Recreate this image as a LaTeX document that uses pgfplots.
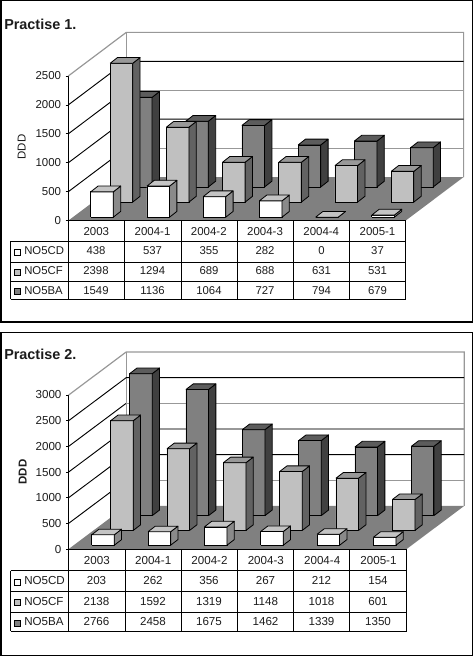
\documentclass[border=0pt]{standalone}
\usepackage{pgfplots}
\usepackage{pgfplotstable}
\usepackage{fontspec}
\setmainfont{Liberation Sans}
\pgfplotsset{compat=1.18}
\definecolor{txt}{HTML}{1C1C1C}
\definecolor{wtop}{HTML}{C4C4C4}
\definecolor{wside}{HTML}{8A8A8A}
\definecolor{gfront}{HTML}{C0C0C0}
\definecolor{gtop}{HTML}{989898}
\definecolor{gside}{HTML}{626262}
\definecolor{dfront}{HTML}{808080}
\definecolor{dtop}{HTML}{5C5C5C}
\definecolor{dside}{HTML}{404040}
\definecolor{floorc}{HTML}{808080}
\definecolor{wallc}{HTML}{989898}

\pgfplotstableread{
cat CD CF BA
2003 438 2398 1549
2004-1 537 1294 1136
2004-2 355 689 1064
2004-3 282 688 727
2004-4 0 631 794
2005-1 37 531 679
}\tblA
\pgfplotstableread{
cat CD CF BA
2003 203 2138 2766
2004-1 262 1592 2458
2004-2 356 1319 1675
2004-3 267 1148 1462
2004-4 212 1018 1339
2005-1 154 601 1350
}\tblB

% one 3-D looking bar: category index, series index, value, three colours
\newcommand{\onebar}[6]{%
  \pgfmathsetmacro{\xa}{\xfirst+#1+#2*\xser}%
  \pgfmathsetmacro{\xb}{\xa+\bwid}%
  \pgfmathsetmacro{\xc}{\xa+\ddx}%
  \pgfmathsetmacro{\xd}{\xb+\ddx}%
  \pgfmathsetmacro{\ya}{\yfirst+#2*\yser}%
  \pgfmathsetmacro{\yb}{\ya+#3}%
  \pgfmathsetmacro{\yc}{\ya+\ddy}%
  \pgfmathsetmacro{\yd}{\yb+\ddy}%
  \addplot[barface,fill=#4] coordinates {(\xa,\ya) (\xb,\ya) (\xb,\yb) (\xa,\yb) (\xa,\ya)};
  \addplot[barface,fill=#6] coordinates {(\xb,\ya) (\xd,\yc) (\xd,\yd) (\xb,\yb) (\xb,\ya)};
  \addplot[barface,fill=#5] coordinates {(\xa,\yb) (\xb,\yb) (\xd,\yd) (\xc,\yd) (\xa,\yb)};
}
\newcommand{\barseries}[6]{% table, column, series index, colours
  \foreach \i in {0,...,5}{%
    \pgfplotstablegetelem{\i}{#2}\of{#1}%
    \let\vv\pgfplotsretval
    \onebar{\i}{#3}{\vv}{#4}{#5}{#6}%
  }%
}
% table text row
\newcommand{\tabrow}[4]{% table, column, y px, name
  \foreach \i/\cx in {0/\cxa,1/\cxb,2/\cxc,3/\cxd,4/\cxe,5/\cxf}{%
    \pgfplotstablegetelem{\i}{#2}\of{#1}%
    \node[tabtxt] at (\cx,#3) {\pgfplotsretval};
  }%
  \node[tabtxt,anchor=west] at (24,#3) {#4};
}
\pgfplotsset{
  barface/.style={draw=black,line width=0.6pt,line join=round,mark=none,forget plot},
  wallline/.style={line width=0.7pt,mark=none,forget plot},
  chart/.style={
    scale only axis,clip=false,
    xmin=0,xmax=6,ymin=0,
    axis x line*=bottom,axis y line*=left,
    axis line style={-,line width=0.6pt},
    xtick={0.5,1.5,2.5,3.5,4.5,5.5},
    xticklabels={2003,2004-1,2004-2,2004-3,2004-4,2005-1},
    x tick style={draw=none},
    y tick style={black,line width=0.6pt},
    major tick length=1.9pt,
    tick align=outside,
    yticklabel style={/pgf/number format/1000 sep={},/pgf/number format/assume math mode=true,text=txt},
    xticklabel style={text=txt,yshift=0pt},
  },
}
\tikzset{tabtxt/.style={text=txt,inner sep=0pt,anchor=center,font=\tabfont}}

\begin{document}
\begin{tikzpicture}
\useasboundingbox (0,0) rectangle (354.75pt,-492pt);

%% ---------- chart 1
\begin{axis}[chart,
  at={(51.2pt,-165.5pt)},anchor=south west,
  width=253pt,height=108.5pt,
  ymax=2500,ytick={0,500,...,2500},
  tick label style={font=\fontsize{8.6}{10}\selectfont},
  ylabel={DDD},
  ylabel style={at={(axis description cs:-0.138,0.51)},anchor=center,text=txt,font=\fontsize{8.6}{10}\selectfont},
]
\addplot[draw=none,fill=floorc,mark=none,forget plot] coordinates {(0,0) (6,0) (7.032,754) (1.032,754) (0,0)};
\addplot[wallline,draw=wallc,line width=0.9pt] coordinates {(0,2500) (1.032,3254) (7.032,3254) (7.032,754)};
\addplot[wallline,draw=wallc,line width=0.9pt] coordinates {(1.032,754) (1.032,3254)};
\addplot[wallline,draw=black] coordinates {(0,500) (1.032,1254)};
\addplot[wallline,draw=black] coordinates {(0,1000) (1.032,1754) (7.032,1754)};
\addplot[wallline,draw=black] coordinates {(0,1500) (1.032,2254)};
\addplot[wallline,draw=black] coordinates {(0,2000) (1.032,2754) (7.032,2754)};
\addplot[wallline,draw=wallc,line width=0.9pt] coordinates {(1.032,1254) (7.032,1254)};
\addplot[wallline,draw=wallc,line width=0.9pt] coordinates {(1.032,2254) (7.032,2254)};
\def\xfirst{0.399}\def\xser{0.345}\def\bwid{0.402}\def\ddx{0.131}
\def\yfirst{60}\def\yser{261}\def\ddy{100}
\barseries{\tblA}{BA}{2}{dfront}{dtop}{dside}
\barseries{\tblA}{CF}{1}{gfront}{gtop}{gside}
\barseries{\tblA}{CD}{0}{white}{wtop}{wside}
\end{axis}

%% ---------- chart 2
\begin{axis}[chart,
  at={(51.5pt,-411.75pt)},anchor=south west,
  width=253.5pt,height=115.5pt,
  ymax=3000,ytick={0,500,...,3000},
  tick label style={font=\fontsize{8.7}{10}\selectfont},
  ylabel={\textbf{DDD}},
  ylabel style={at={(axis description cs:-0.136,0.5)},anchor=center,text=txt,font=\fontsize{8.6}{10}\selectfont},
]
\addplot[draw=none,fill=floorc,mark=none,forget plot] coordinates {(0,0) (6,0) (7.021,838) (1.021,838) (0,0)};
\addplot[wallline,draw=wallc,line width=0.9pt] coordinates {(0,3000) (1.021,3838) (7.021,3838) (7.021,838)};
\addplot[wallline,draw=wallc,line width=0.9pt] coordinates {(1.021,838) (1.021,3838)};
\addplot[wallline,draw=black] coordinates {(0,500) (1.021,1338)};
\addplot[wallline,draw=black] coordinates {(0,1000) (1.021,1838) (7.021,1838)};
\addplot[wallline,draw=black] coordinates {(0,1500) (1.021,2338)};
\addplot[wallline,draw=black] coordinates {(0,2000) (1.021,2838)};
\addplot[wallline,draw=black] coordinates {(0,2500) (1.021,3338) (7.021,3338)};
\addplot[wallline,draw=wallc,line width=0.9pt] coordinates {(1.021,1338) (7.021,1338)};
\addplot[wallline,draw=wallc,line width=0.9pt] coordinates {(1.021,2338) (7.021,2338)};
\addplot[wallline,draw=wallc,line width=0.9pt] coordinates {(1.021,2838) (7.021,2838)};
\def\xfirst{0.4085}\def\xser{0.337}\def\bwid{0.401}\def\ddx{0.13}
\def\yfirst{74}\def\yser{288}\def\ddy{109}
\barseries{\tblB}{BA}{2}{dfront}{dtop}{dside}
\barseries{\tblB}{CF}{1}{gfront}{gtop}{gside}
\barseries{\tblB}{CD}{0}{white}{wtop}{wside}
\end{axis}

%% ---------- frames, titles and data tables (px units, y down)
\begin{scope}[x=0.75pt,y=-0.75pt]
\draw[line width=0.8pt] (1,0.6) rectangle (472.4,322);
\draw[line width=0.8pt] (1,332.3) rectangle (472.4,655.2);
\node[anchor=west,inner sep=0pt,text=txt,font=\fontsize{10.8}{12}\selectfont\bfseries] at (4,24) {Practise 1.};
\node[anchor=west,inner sep=0pt,text=txt,font=\fontsize{10.8}{12}\selectfont\bfseries] at (4,354) {Practise 2.};

% table 1
\begin{scope}[line width=0.65pt]
\draw (68.3,220.7) -- (405.7,220.7);
\draw (10.7,241.3) -- (405.7,241.3);
\draw (10.7,262.3) -- (405.7,262.3);
\draw (10.7,281.3) -- (405.7,281.3);
\draw (10.7,299.3) -- (405.7,299.3);
\draw (10.7,241.3) -- (10.7,299.3);
\foreach \vx in {68.3,124.5,181.5,237,293.7,349.7,405.7} \draw (\vx,220.7) -- (\vx,299.3);
\end{scope}
\draw[line width=0.5pt,fill=white] (14.7,249.7) rectangle (20.7,255.7);
\draw[line width=0.5pt,fill=gfront] (14.7,269.3) rectangle (20.7,275.3);
\draw[line width=0.5pt,fill=dfront] (14.7,288.7) rectangle (20.7,294.7);
\def\tabfont{\fontsize{8.5}{10}\selectfont}
\def\cxa{96}\def\cxb{152.5}\def\cxc{209}\def\cxd{265}\def\cxe{321.5}\def\cxf{377.5}
\tabrow{\tblA}{CD}{251}{NO5CD}
\tabrow{\tblA}{CF}{271}{NO5CF}
\tabrow{\tblA}{BA}{290.3}{NO5BA}

% table 2
\begin{scope}[line width=0.65pt]
\draw (68.7,549) -- (406.5,549);
\draw (10.7,570.7) -- (406.5,570.7);
\draw (10.7,591.3) -- (406.5,591.3);
\draw (10.7,612.7) -- (406.5,612.7);
\draw (10.7,631.3) -- (406.5,631.3);
\draw (10.7,570.7) -- (10.7,631.3);
\foreach \vx in {68.7,125.5,181.5,237,293.7,349.7,406.5} \draw (\vx,549) -- (\vx,631.3);
\end{scope}
\draw[line width=0.5pt,fill=white] (14.7,579.7) rectangle (20.7,585.7);
\draw[line width=0.5pt,fill=gfront] (14.7,599.7) rectangle (20.7,605.7);
\draw[line width=0.5pt,fill=dfront] (14.7,620.7) rectangle (20.7,626.7);
\def\tabfont{\fontsize{8.7}{10}\selectfont}
\def\cxa{96.5}\def\cxb{153}\def\cxc{209}\def\cxd{265.5}\def\cxe{321.5}\def\cxf{378}
\tabrow{\tblB}{CD}{580.7}{NO5CD}
\tabrow{\tblB}{CF}{601.7}{NO5CF}
\tabrow{\tblB}{BA}{621.7}{NO5BA}
\end{scope}
\end{tikzpicture}
\end{document}
